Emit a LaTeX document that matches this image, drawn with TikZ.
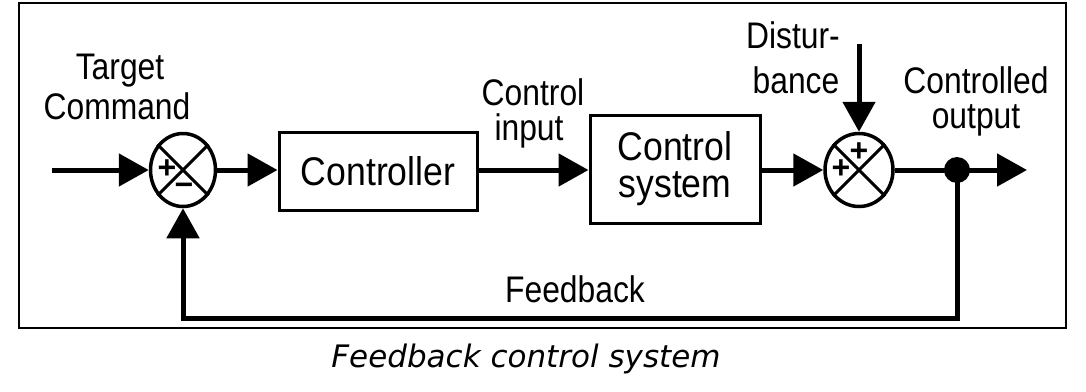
\documentclass[tikz,border=0pt]{standalone}
\usepackage{fontspec}
\setmainfont{Liberation Sans}
\newfontfamily\labfont[FakeStretch=0.86]{Liberation Sans}
\newfontfamily\boxfont[FakeStretch=0.89]{Liberation Sans}
\newfontfamily\capfont{DejaVu Sans}
\usetikzlibrary{arrows.meta,shapes.geometric}
\begin{document}
\begin{tikzpicture}[x=1pt,y=-1pt,
  wire/.style={line width=5pt, -{Triangle[length=30pt,width=32pt]}},
  plain/.style={line width=5pt},
  blk/.style={draw, line width=3pt, font=\boxfont\fontsize{40}{37}\selectfont, align=center, inner sep=0pt},
  lbl/.style={font=\labfont\fontsize{37}{40}\selectfont, inner sep=0pt, anchor=base},
  sumj/.style={ellipse, draw, line width=3.5pt, inner sep=0pt},
  cross/.style={line width=3pt},
  sign/.style={font=\fontsize{32}{32}\selectfont\bfseries, inner sep=0pt},
  jdot/.style={circle, fill, minimum size=26pt, inner sep=0pt}]
\useasboundingbox (0,0) rectangle (1086,391);
\draw[line width=2pt] (19,3) rectangle (1066,328);

\node[sumj, minimum width=65pt, minimum height=73pt] (s1) at (183,170) {};
\draw[cross] (s1.45) -- (s1.225) (s1.135) -- (s1.315);
\node[sign] (s1p) at (167,169) {+};
\node[sign] (s1m) at (184,189) {−};

\node[blk, minimum width=198pt, minimum height=78pt] (ctrl) at (378,171) {Controller};
\node[blk, minimum width=170pt, minimum height=108pt] (sys) at (675,169) {Control\\system};

\node[sumj, minimum width=68pt, minimum height=73pt] (s2) at (859,170) {};
\draw[cross] (s2.45) -- (s2.225) (s2.135) -- (s2.315);
\node[sign] (s2t) at (859,152) {+};
\node[sign] (s2l) at (841,169) {+};

\node[jdot] (dot) at (957,170) {};
\coordinate (in) at (52,170);
\coordinate (out) at (1027,170);
\coordinate (dist) at (859,44);
\coordinate (fb) at (957,318);

\draw[wire] (in) -- (s1.west);
\draw[wire] (s1.east) -- (s1.east -| ctrl.west);
\draw[wire] (ctrl.east |- s1.east) -- (s1.east -| sys.west);
\draw[wire] (sys.east |- s2.west) -- (s2.west);
\draw[wire] (dist) -- (s2.north);
\draw[plain] (s2.east) -- (dot.center);
\draw[wire] (dot.center) -- (out);
\draw[wire] (dot.center) -- (fb) -| (s1.south);

\node[lbl] (tc1) at (120,79) {Target};
\node[lbl] (tc2) at (117,119) {Command};
\node[lbl] (ci1) at (533,105) {Control};
\node[lbl] (ci2) at (529,140) {input};
\node[lbl] (d1) at (793,48) {Distur-};
\node[lbl] (d2) at (796,93) {bance};
\node[lbl] (co1) at (976,93) {Controlled};
\node[lbl] (co2) at (976,128) {output};
\node[lbl] (fbl) at (575,302) {Feedback};
\node[font=\capfont\itshape\fontsize{31}{34}\selectfont, inner sep=0pt, anchor=base] (cap) at (526,367) {Feedback control system};
\end{tikzpicture}
\end{document}
